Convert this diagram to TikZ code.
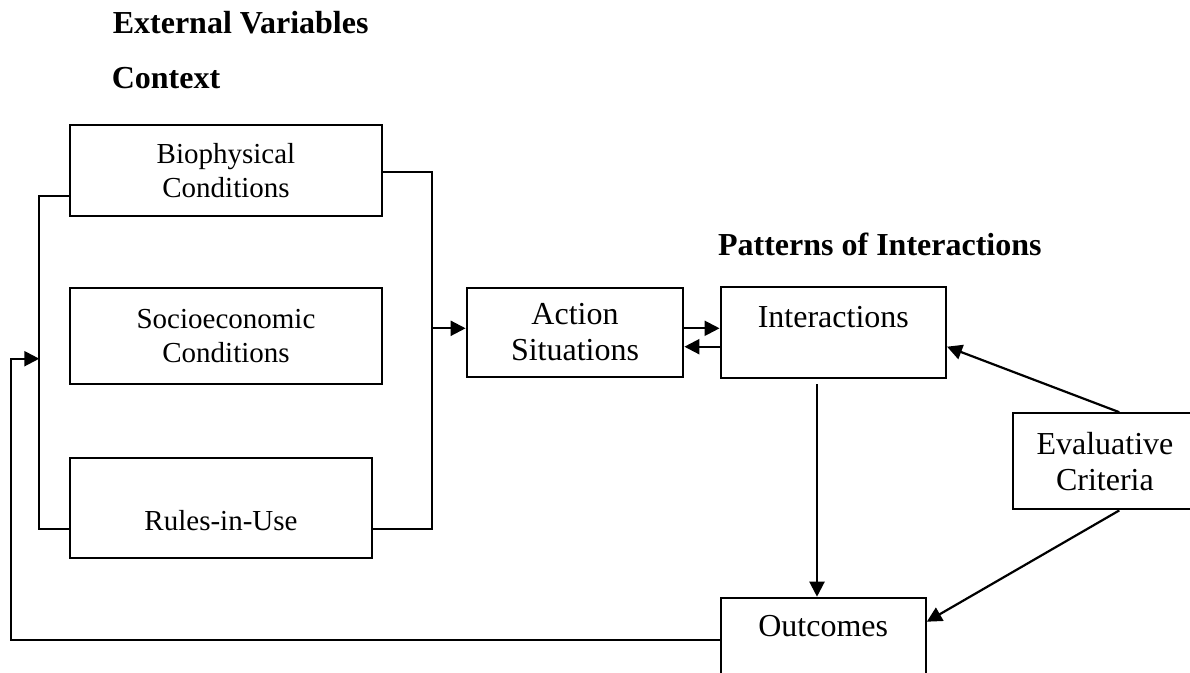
\documentclass[tikz,border=0pt]{standalone}
\usepackage{fontspec}
\setmainfont{Liberation Serif}
\usetikzlibrary{arrows.meta}
\begin{document}
\begin{tikzpicture}[x=1pt,y=-1pt, line width=2.2pt,
  box/.style={draw, rectangle, inner sep=0pt, align=center},
  small/.style={font=\fontsize{29}{34}\selectfont},
  big/.style={font=\fontsize{32}{36}\selectfont},
  title/.style={font=\fontsize{32}{37}\selectfont\bfseries, anchor=base west, inner sep=0pt},
  txt/.style={anchor=base, inner sep=0pt},
  arr/.style={-{Triangle[length=15pt,width=15pt]}}]
\useasboundingbox (0,0) rectangle (1190,672);
\clip (0,0) rectangle (1190,672);

% titles
\node[title] (ext) at (111.7,33.3) {External Variables};
\node[title] (ctx) at (110.7,88) {Context};
\node[title] (pat) at (717,255) {Patterns of Interactions};

% boxes
\node[box, small, minimum width=312pt, minimum height=91pt] (bio) at (226,170.5) {Biophysical\\Conditions};
\node[box, small, minimum width=312pt, minimum height=96pt] (socio) at (226,336) {Socioeconomic\\Conditions};
\node[box, minimum width=302pt, minimum height=100pt] (rules) at (221,508) {};
\node[small, txt] (rulestxt) at (221,530) {Rules-in-Use};
\node[box, big, minimum width=216.6pt, minimum height=89.6pt] (action) at (575,332.5) {Action\\Situations};
\node[box, minimum width=225.3pt, minimum height=91pt] (inter) at (833.3,332.8) {};
\node[big, txt] (intertxt) at (833.3,327.7) {Interactions};
\node[box, minimum width=205pt, minimum height=102pt] (outc) at (823.2,648.8) {};
\node[big, txt] (outctxt) at (823.2,636.7) {Outcomes};
\node[box, big, minimum width=184.3pt, minimum height=96pt] (eval) at (1104.9,461.3) {Evaluative\\Criteria};

% helper coordinates
\coordinate (L1) at (39.3,196);
\coordinate (L2) at (39.3,529);
\coordinate (R1) at (431.7,171.7);
\coordinate (R2) at (431.7,529);
\coordinate (RM) at (431.7,328.3);
\coordinate (A1) at (700,328.3);
\coordinate (A2) at (700,346.7);
\coordinate (V) at (817,380);
\coordinate (E) at (1119.3,460);
\coordinate (I) at (950,346.7);
\coordinate (O) at (930,621.7);
\coordinate (F1) at (11,640);
\coordinate (F2) at (11,358.7);
\coordinate (F3) at (39.3,358.7);

% left bracket
\draw (bio.west |- L1) -- (L1) -- (L2) -- (rules.west |- L2);
% right bracket
\draw (bio.east |- R1) -- (R1) -- (R2) -- (rules.east |- R2);
\draw[arr] (RM) -- (action.west |- RM);

% action <-> interactions
\draw[arr] (action.east |- A1) -- (inter.west |- A1);
\draw[arr] (inter.west |- A2) -- (action.east |- A2);

% interactions -> outcomes
\draw[arr, shorten <=5pt] (inter.south -| V) -- (outc.north -| V);

% evaluative criteria
\draw[arr] (eval.north -| E) -- (inter.east |- I);
\draw[arr] (eval.south -| E) -- (outc.east |- O);

% feedback
\draw[arr] (outc.west |- F1) -- (F1) -- (F2) -- (F3);
\end{tikzpicture}
\end{document}
